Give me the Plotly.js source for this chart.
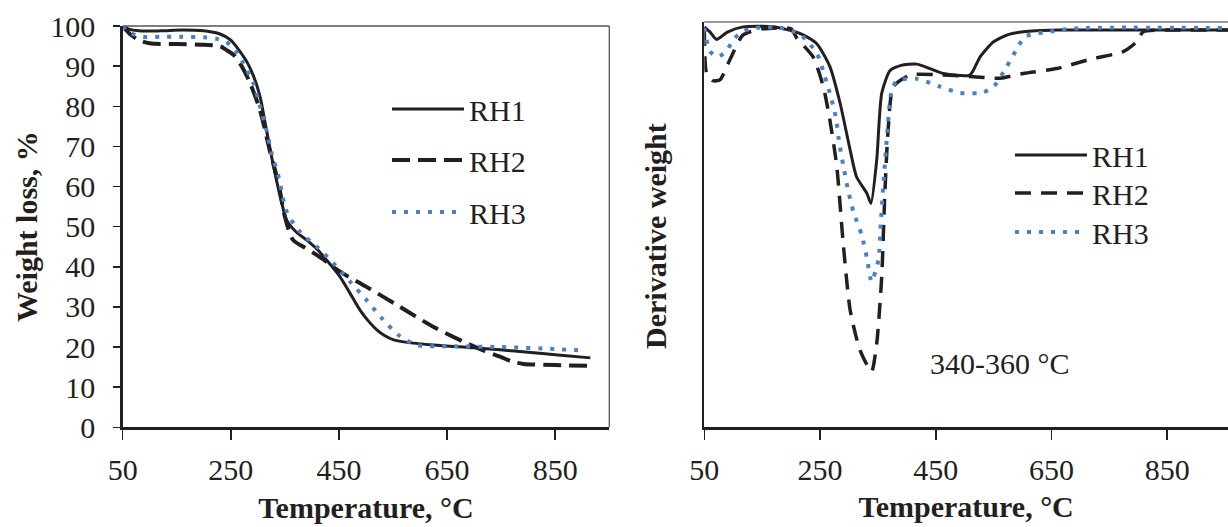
<!DOCTYPE html>
<html>
<head>
<meta charset="utf-8">
<script src="https://cdn.plot.ly/plotly-3.0.1.min.js"></script>
<style>html,body{margin:0;padding:0;background:#fff;}#chart{width:1228px;height:527px;}</style>
</head>
<body>
<div id="chart"></div>
<script>
// ---- TGA (weight loss, %) ----
const seriesNames = ["RH1", "RH2", "RH3"];
const tgaT1 = [50, 60, 80, 120, 160, 200, 230, 250, 265, 280, 292, 304, 316, 329, 344, 353, 370, 390, 410, 427, 452, 470, 489, 505, 520, 535, 551, 580, 625, 700, 748, 800, 850, 915];
const tgaW1 = [100, 99.3, 98.8, 98.8, 99, 98.8, 98, 96.5, 94, 91, 87.5, 82.4, 74, 65, 56, 51.7, 48.8, 46.7, 44.3, 41.7, 37.5, 33.5, 29.2, 26.4, 24.3, 22.8, 21.8, 21.1, 20.5, 19.8, 19.3, 18.7, 18.1, 17.3];
const tgaT2 = [50, 65, 80, 100, 150, 200, 229, 242, 255, 267, 276, 285.5, 304, 322, 338, 350, 365, 384, 414, 452, 501, 563, 625, 687, 720, 748, 770, 791, 850, 914];
const tgaW2 = [100, 97.8, 96.5, 95.7, 95.5, 95.3, 95, 94, 92.8, 90.7, 88.5, 85.8, 79, 69, 60.8, 52.5, 46.7, 45, 42.5, 38.8, 35, 30, 25, 20.9, 19, 17.6, 16.4, 15.8, 15.5, 15.3];
const tgaT3 = [50, 60, 88, 120, 160, 200, 224, 242, 260, 272, 291.6, 304, 316, 325, 338, 353.5, 378, 409, 439.6, 470.5, 501, 529, 560, 594, 656, 748, 850, 902];
const tgaW3 = [100, 98.5, 97.3, 97.3, 97.3, 97.2, 96.8, 96, 93.6, 91, 85.7, 80, 74, 68.5, 62.6, 53.7, 48.7, 45, 40.9, 36.3, 31.7, 27.2, 23, 20.5, 20.2, 20, 19.5, 19.1];

// ---- DTG (derivative weight, arbitrary units) ----
const dtgT1 = [50, 60, 71, 90, 117, 169, 215, 244, 267, 284.6, 302, 313, 331, 338, 348, 356.6, 371, 390, 417, 440, 463, 509, 526.6, 549.6, 575, 601, 659, 750, 850, 955];
const dtgW1 = [98.8, 97.5, 95.7, 97.5, 98.8, 98.8, 97.2, 94.7, 89, 80, 68.4, 61.8, 57.7, 55.2, 66, 82.4, 88, 89.3, 89.6, 88.5, 87.3, 86.9, 91.4, 95.1, 96.9, 97.6, 98, 98, 98, 98];
const dtgT2 = [50, 54, 65, 77, 94, 117, 150, 200, 210, 238, 255.7, 267, 279, 290, 302, 319, 339, 348, 356.6, 362, 368, 376.7, 405.6, 450, 515, 561, 601, 659, 717, 774, 797, 808.5, 850, 955];
const dtgW2 = [98, 87.3, 85.5, 85.7, 90.6, 96.8, 98.3, 98.3, 96, 91.4, 84, 75.8, 64.3, 45.4, 28.9, 19, 13.7, 20.7, 37.1, 57.7, 74.1, 84, 86.9, 87, 86.5, 86.1, 87.3, 88.5, 90.8, 92.7, 95.1, 97.6, 98, 98];
const dtgT3 = [50, 54, 60, 74, 89, 100, 115, 140, 180, 212.5, 227, 241, 250, 255.7, 261.6, 267, 273, 277.7, 283, 290, 298, 307.6, 322, 331, 339, 350.8, 355, 359, 363.6, 367, 370, 374, 382.6, 417, 454.5, 492, 532, 551, 572.7, 592.8, 604, 654, 700, 955];
const dtgW3 = [98.5, 95.6, 92.7, 91.4, 93, 95.6, 97.6, 98.6, 98.6, 97.2, 95.4, 93, 90.6, 87.7, 85, 82.4, 79.1, 76.2, 70.4, 64.7, 58.8, 53.2, 47.4, 41.7, 35.9, 41.2, 50.3, 58.9, 68, 74.1, 79.5, 83.2, 85.5, 86, 84.2, 82.5, 82.6, 84.2, 89, 94, 96.4, 97.8, 98.5, 98.5];

const xTickVals = [50, 250, 450, 650, 850];
const yTickVals = [0, 10, 20, 30, 40, 50, 60, 70, 80, 90, 100];
const peakLabel = "340-360 °C";
const peakLabelPos = [561, 15.8];

const FONT = "Liberation Serif, Times New Roman, serif";
const INK = "#231f20";
const BLUE = "#4a80c4";

const traces = [
  {x: tgaT1, y: tgaW1, name: seriesNames[0], xaxis: "x", yaxis: "y", legend: "legend",
   mode: "lines", line: {color: INK, width: 3, shape: "spline", smoothing: 0.8}},
  {x: tgaT2, y: tgaW2, name: seriesNames[1], xaxis: "x", yaxis: "y", legend: "legend2",
   mode: "lines", line: {color: INK, width: 4, dash: "18px,8px", shape: "spline", smoothing: 0.8}},
  {x: tgaT3, y: tgaW3, name: seriesNames[2], xaxis: "x", yaxis: "y", legend: "legend3",
   mode: "lines", line: {color: BLUE, width: 4, dash: "4px,8px", shape: "spline", smoothing: 0.8}},
  {x: dtgT1, y: dtgW1, name: seriesNames[0], xaxis: "x2", yaxis: "y2", legend: "legend4",
   mode: "lines", line: {color: INK, width: 3, shape: "spline", smoothing: 0.6}},
  {x: dtgT2, y: dtgW2, name: seriesNames[1], xaxis: "x2", yaxis: "y2", legend: "legend5",
   mode: "lines", line: {color: INK, width: 3.5, dash: "16px,10px", shape: "spline", smoothing: 0.6}},
  {x: dtgT3, y: dtgW3, name: seriesNames[2], xaxis: "x2", yaxis: "y2", legend: "legend6",
   mode: "lines", line: {color: BLUE, width: 4, dash: "4px,8px", shape: "spline", smoothing: 0.6}}
];

const W = 1228, H = 527;
const px = v => v / W, py = v => 1 - v / H;

function leg(xp, yp) {
  return {x: px(xp), y: py(yp), xanchor: "left", yanchor: "top",
          bgcolor: "rgba(0,0,0,0)", borderwidth: 0, itemwidth: 72,
          font: {size: 30, color: INK}};
}

const layout = {
  width: W, height: H,
  margin: {l: 0, r: 0, t: 0, b: 0},
  paper_bgcolor: "#fff", plot_bgcolor: "#fff",
  font: {family: FONT, size: 30, color: INK},
  showlegend: true,
  xaxis: {
    domain: [px(122.7), px(609.3)], range: [50, 950], anchor: "y",
    tickvals: xTickVals, ticks: "outside", ticklen: 10, tickwidth: 1.5, tickcolor: INK,
    showline: true, linecolor: INK, linewidth: 2.5, showgrid: false, zeroline: false,
    ticklabelstandoff: 4, tickfont: {size: 30},
    title: {text: "<b>Temperature, °C</b>", font: {size: 30}, standoff: 12}
  },
  yaxis: {
    domain: [py(427.3), py(26)], range: [0, 100], anchor: "x",
    tickvals: yTickVals, ticks: "outside", ticklen: 7, tickwidth: 1.5, tickcolor: INK,
    showline: true, linecolor: INK, linewidth: 2.5, showgrid: false, zeroline: false,
    ticklabelstandoff: 12, tickfont: {size: 30},
    title: {text: "<b>Weight loss, %</b>", font: {size: 30}, standoff: 4}
  },
  xaxis2: {
    domain: [px(704.3), 1], range: [50, 955], anchor: "y2",
    tickvals: xTickVals, ticks: "outside", ticklen: 10, tickwidth: 1.5, tickcolor: INK,
    showline: true, linecolor: INK, linewidth: 2.5, showgrid: false, zeroline: false,
    ticklabelstandoff: 4, tickfont: {size: 30},
    title: {text: "<b>Temperature, °C</b>", font: {size: 30}, standoff: 12}
  },
  yaxis2: {
    domain: [py(427), py(22)], range: [0, 100], anchor: "x2",
    showticklabels: false, ticks: "",
    showline: true, linecolor: INK, linewidth: 2, showgrid: false, zeroline: false
  },
  legend: leg(387, 83),
  legend2: leg(387, 134),
  legend3: leg(387, 186),
  legend4: leg(1010, 129),
  legend5: leg(1010, 167),
  legend6: leg(1010, 206),
  shapes: [
    {type: "line", xref: "x domain", yref: "y domain", x0: 0, x1: 1, y0: 1, y1: 1, line: {color: "#555", width: 1.3}},
    {type: "line", xref: "x domain", yref: "y domain", x0: 1, x1: 1, y0: 0, y1: 1, line: {color: "#555", width: 1.3}},
    {type: "line", xref: "x2 domain", yref: "y2 domain", x0: 0, x1: 1, y0: 1, y1: 1, line: {color: "#777", width: 1.3}}
  ],
  annotations: [
    {xref: "x2", yref: "y2", x: peakLabelPos[0], y: peakLabelPos[1], text: peakLabel, showarrow: false,
     font: {size: 30, color: INK}, xanchor: "center", yanchor: "middle"},
    {xref: "paper", yref: "paper", x: px(656), y: py(236), text: "<b>Derivative weight</b>", showarrow: false,
     textangle: -90, font: {size: 30, color: INK}, xanchor: "center", yanchor: "middle"}
  ]
};

Plotly.newPlot("chart", traces, layout, {displayModeBar: false, staticPlot: true});
</script>
</body>
</html>
